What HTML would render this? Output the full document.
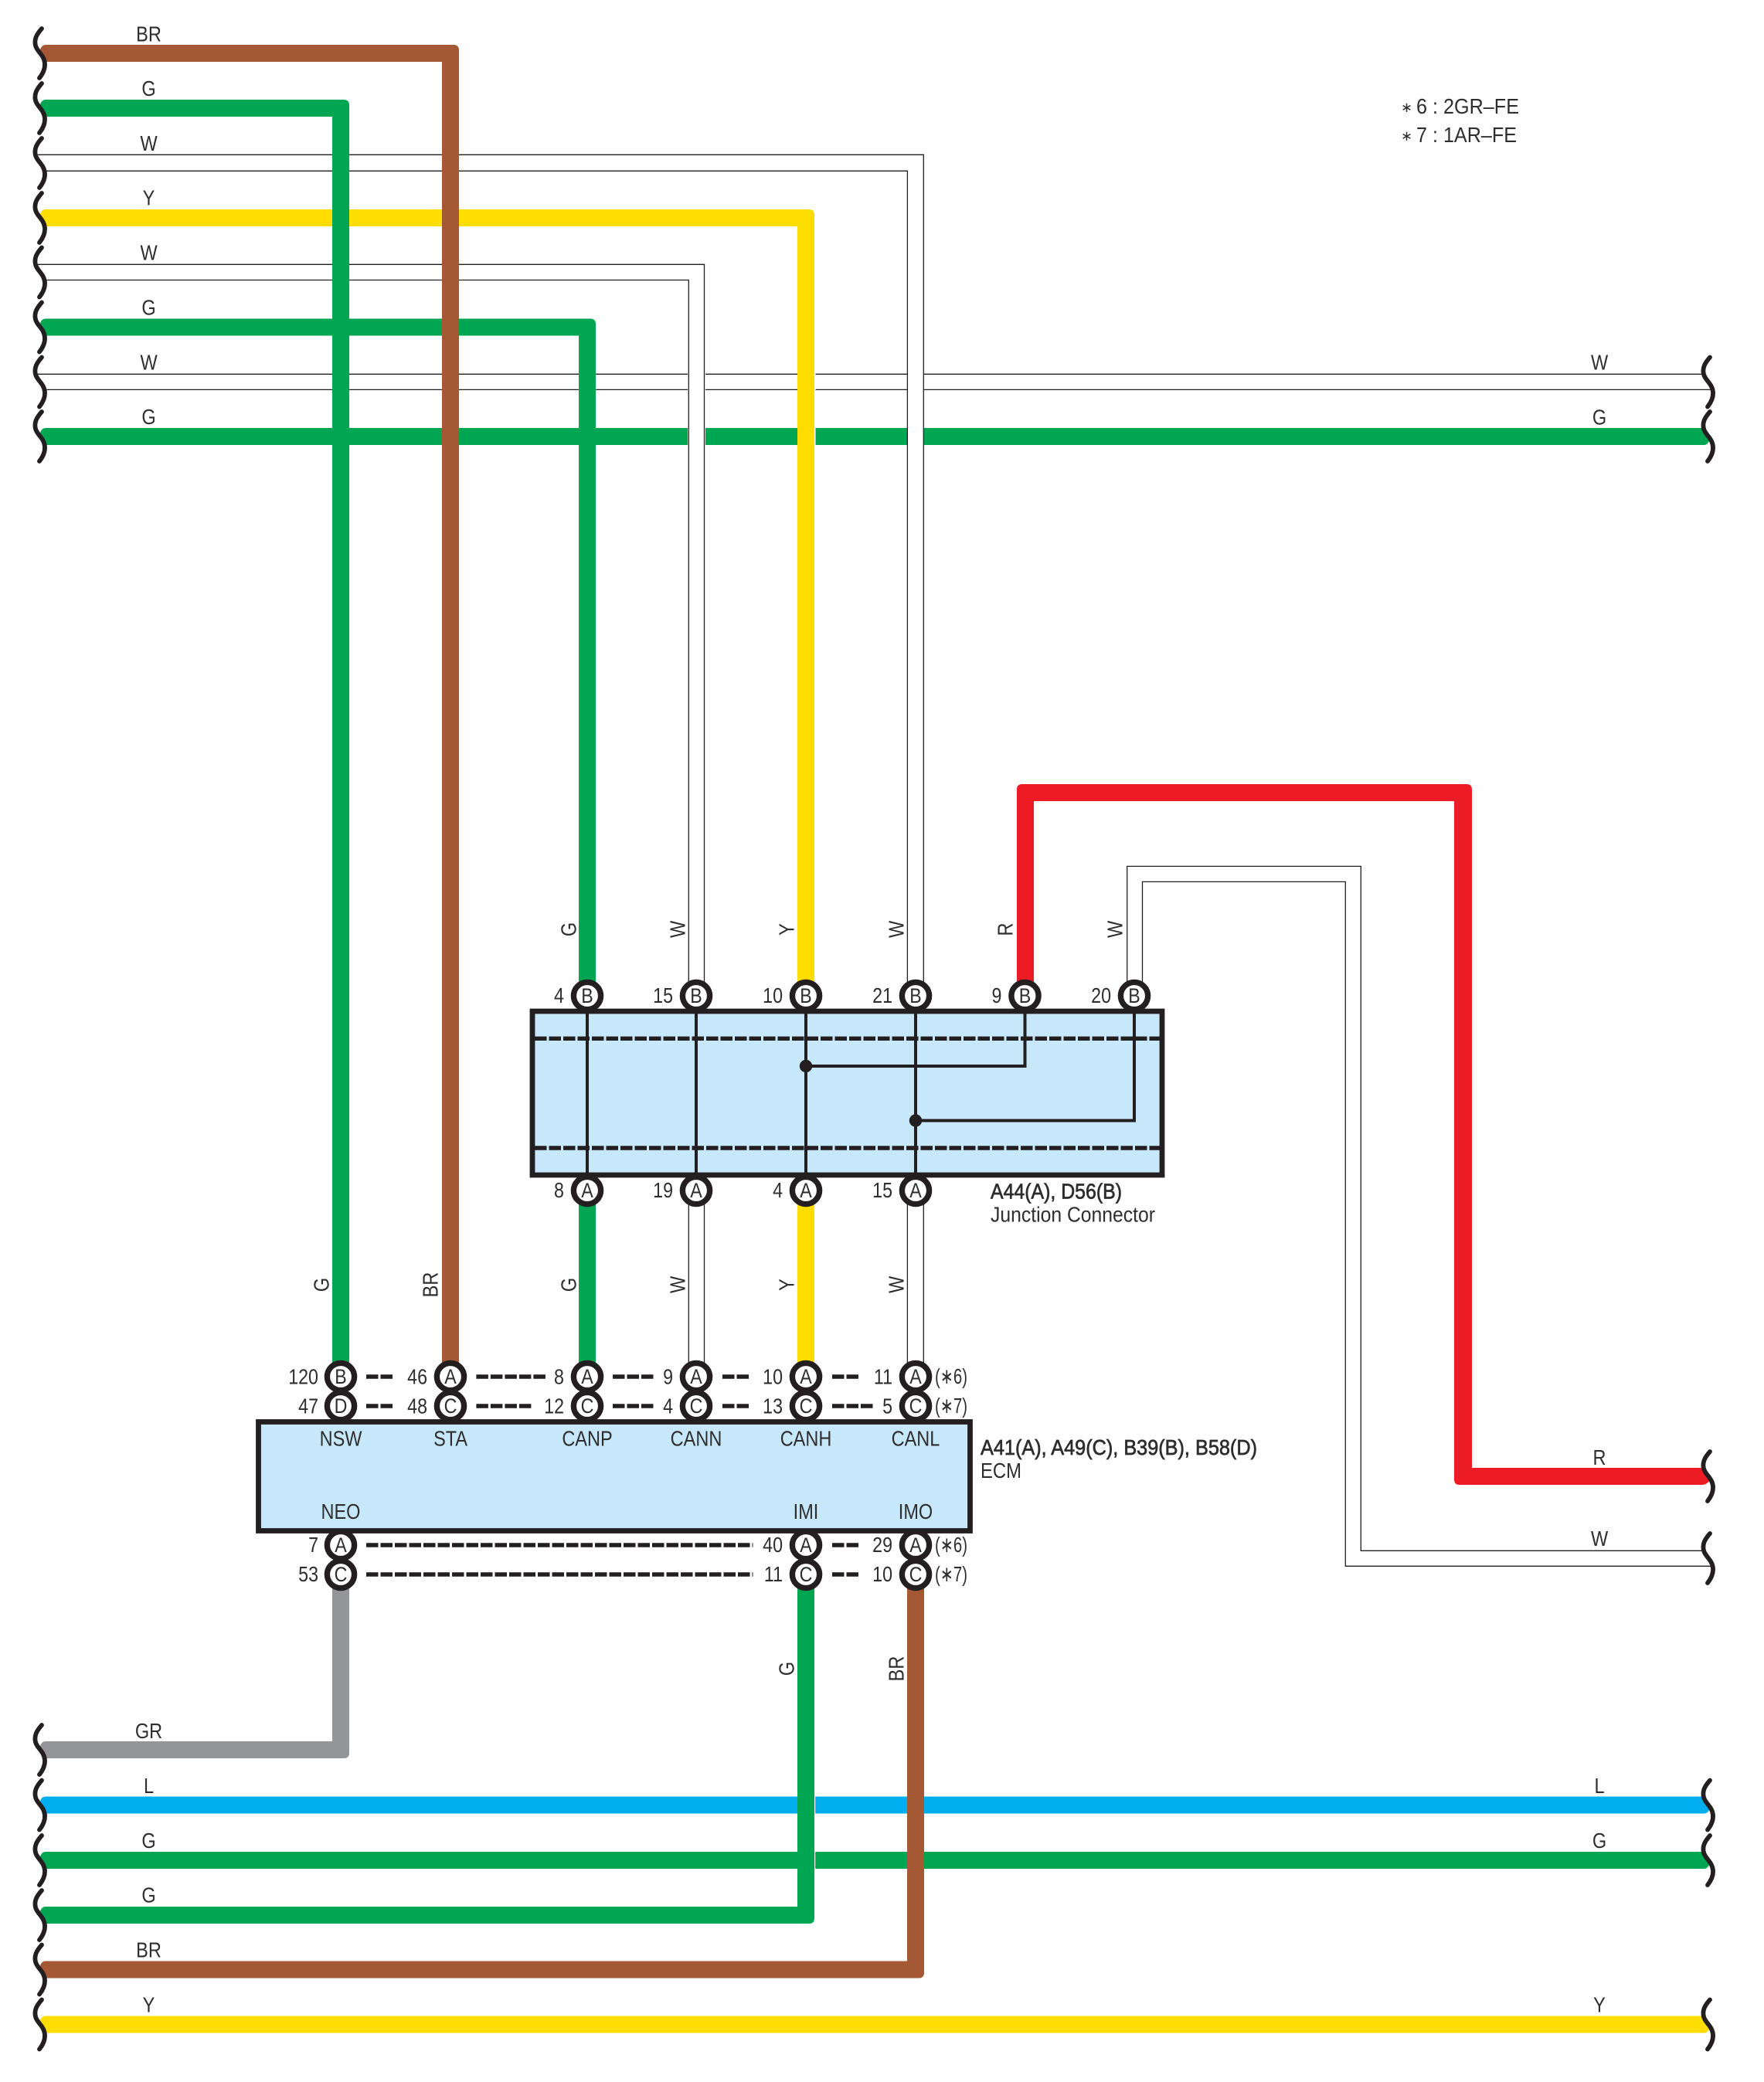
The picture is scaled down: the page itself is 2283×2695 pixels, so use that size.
<!DOCTYPE html>
<html lang="en"><head><meta charset="utf-8"><title>Wiring diagram</title>
<style>
html,body{margin:0;padding:0;background:#fff}
svg{display:block}
text{font-family:"Liberation Sans",sans-serif;font-size:28px;fill:#2e2e2e}
.m{text-anchor:middle;transform-box:fill-box;transform-origin:center;transform:scaleX(.84)}
.e{text-anchor:end;transform-box:fill-box;transform-origin:right center;transform:scaleX(.83)}
text.p{font-size:27px;transform:scaleX(.86)}
text.a{font-size:18px}
.w{fill:none;stroke:#231f20;stroke-width:1.3}
.c{fill:#fff;stroke:#231f20;stroke-width:7.4}
.d{stroke:#231f20;stroke-width:5.4;stroke-dasharray:15.5 3;fill:none}
.b{fill:#c7e7fa;stroke:#231f20;stroke-width:6.8}
.i{fill:none;stroke:#231f20;stroke-width:4}
.n{stroke:#2a2a2a;stroke-width:.7}
</style></head><body>
<svg xmlns="http://www.w3.org/2000/svg" width="2283" height="2695" viewBox="0 0 2283 2695">
<defs><path id="s" d="M54,-32C47,-24 44,-18 46,-10C48,-2 57,2 58,13C58.5,20 55,27 51,32" fill="none" stroke="#231f20" stroke-width="5.8" stroke-linecap="round"/></defs>
<rect width="2283" height="2695" fill="#fff"/>

<!-- white wire horizontals, row 3 -->
<path class="w" d="M49,484.3H2205M57,504.4H2218"/>
<path fill="#00a651" d="M59,554Q54,554 52,560L58,576H2206Q2210,576 2213,569L2205,554Z"/>
<!-- white wires over -->
<rect x="890" y="475" width="23" height="110" fill="#fff"/>
<rect x="1032" y="475" width="23.5" height="110" fill="#fff"/>
<rect x="1174" y="475" width="22" height="110" fill="#fff"/>
<path class="w" d="M49,200.3H1195.3V1272M58,221.3H1174.4V1272"/>
<path class="w" d="M49,342.3H911.5V1272M58,362.5H891.3V1272"/>
<!-- coloured elbows top -->
<path fill="#ffdd00" d="M59,271Q54,271 52,277L58,293H1032V1290H1054V278Q1054,271 1047,271Z"/>
<path fill="#00a651" d="M59,412.5Q54,412.5 52,418L58,434.5H749V1290H771V419.5Q771,412.5 764,412.5Z"/>
<path fill="#00a651" d="M59,129Q54,129 52,135L58,151H430V1782H452V136Q452,129 445,129Z"/>
<path fill="#a45834" d="M59,58Q54,58 52,64L58,80H572V1782H594V65Q594,58 587,58Z"/>
<!-- mid wires -->
<rect x="749" y="1541" width="22" height="241" fill="#00a651"/>
<rect x="1032" y="1541" width="22" height="241" fill="#ffdd00"/>
<path class="w" d="M891.3,1541V1782M911.5,1541V1782M1174.4,1541V1782M1195.3,1541V1782"/>
<!-- red and right white -->
<path fill="#ed1c24" d="M1316,1289V1022Q1316,1015 1323,1015H1898Q1905,1015 1905,1022V1900H2205L2213,1916Q2209,1922 2203,1922H1889Q1882,1922 1882,1915V1037H1338V1289Z"/>
<path class="w" d="M1458.7,1289V1121.4H1761.3V2007.3H2204M1478.5,1289V1141.4H1741.3V2027.3H2217"/>
<!-- bottom wires -->
<path fill="#00aeef" d="M59,2325.5Q54,2325.5 52,2331L58,2347.5H2206Q2210,2347.5 2213,2341L2205,2325.5Z"/>
<path fill="#00a651" d="M59,2397Q54,2397 52,2403L58,2419H2206Q2210,2419 2213,2412L2205,2397Z"/>
<path fill="#ffdd00" d="M59,2609.5Q54,2609.5 52,2615L58,2631.5H2206Q2210,2631.5 2213,2625L2205,2609.5Z"/>
<rect x="1054" y="2320" width="1.2" height="105" fill="#fff"/>
<path fill="#939598" d="M59,2254Q54,2254 52,2260L58,2276H445Q452,2276 452,2269V2038H430V2254Z"/>
<path fill="#00a651" d="M59,2468Q54,2468 52,2474L58,2490H1047Q1054,2490 1054,2483V2038H1032V2468Z"/>
<path fill="#a45834" d="M59,2538.5Q54,2538.5 52,2544L58,2560.5H1189Q1196,2560.5 1196,2553.5V2038H1174V2538.5Z"/>

<!-- squiggles left -->
<use href="#s" y="69"/><use href="#s" y="140"/><use href="#s" y="211"/><use href="#s" y="282"/><use href="#s" y="352.5"/><use href="#s" y="423.5"/><use href="#s" y="494.5"/><use href="#s" y="565"/>
<use href="#s" y="2265"/><use href="#s" y="2336.5"/><use href="#s" y="2408"/><use href="#s" y="2479"/><use href="#s" y="2549.5"/><use href="#s" y="2620.5"/>
<!-- squiggles right -->
<use href="#s" x="2159" y="494.5"/><use href="#s" x="2159" y="565"/><use href="#s" x="2159" y="1911"/><use href="#s" x="2159" y="2017"/><use href="#s" x="2159" y="2336.5"/><use href="#s" x="2159" y="2408"/><use href="#s" x="2159" y="2620.5"/>

<!-- circles -->
<g class="c"><circle cx="760" cy="1289" r="17.6"/><circle cx="901" cy="1289" r="17.6"/><circle cx="1043" cy="1289" r="17.6"/><circle cx="1185" cy="1289" r="17.6"/><circle cx="1326.5" cy="1289" r="17.6"/><circle cx="1468" cy="1289" r="17.6"/>
<circle cx="760" cy="1541" r="17.6"/><circle cx="901" cy="1541" r="17.6"/><circle cx="1043" cy="1541" r="17.6"/><circle cx="1185" cy="1541" r="17.6"/>
<circle cx="441" cy="1782" r="17.6"/><circle cx="583" cy="1782" r="17.6"/><circle cx="760" cy="1782" r="17.6"/><circle cx="901" cy="1782" r="17.6"/><circle cx="1043" cy="1782" r="17.6"/><circle cx="1185" cy="1782" r="17.6"/>
<circle cx="441" cy="1820" r="17.6"/><circle cx="583" cy="1820" r="17.6"/><circle cx="760" cy="1820" r="17.6"/><circle cx="901" cy="1820" r="17.6"/><circle cx="1043" cy="1820" r="17.6"/><circle cx="1185" cy="1820" r="17.6"/>
<circle cx="441" cy="2000" r="17.6"/><circle cx="1043" cy="2000" r="17.6"/><circle cx="1185" cy="2000" r="17.6"/>
<circle cx="441" cy="2038" r="17.6"/><circle cx="1043" cy="2038" r="17.6"/><circle cx="1185" cy="2038" r="17.6"/></g>

<!-- junction box -->
<rect class="b" x="689" y="1309" width="815" height="212"/>
<path class="d" d="M692,1344.3H1501M692,1486H1501"/>
<path class="i" d="M760,1309V1521M901,1309V1521M1043,1309V1521M1185,1309V1521M1326.5,1309V1380H1043M1468,1309V1450.5H1185"/>
<circle cx="1043" cy="1380" r="8.2" fill="#231f20"/><circle cx="1185" cy="1450.5" r="8.2" fill="#231f20"/>

<!-- ECM box -->
<rect class="b" x="334.5" y="1840.5" width="921" height="141"/>
<path class="d" d="M474,1782H510M616.4,1782H707M793,1782H847M935,1782H970M1077,1782H1112M474,1820H510M616.4,1820H689M793,1820H847M935,1820H970M1077,1820H1130M474,2000H974.5M1077,2000H1112M474,2038H974.5M1077,2038H1112"/>

<!-- pin letters -->
<text class="m p" x="760" y="1298">B</text><text class="m p" x="901" y="1298">B</text><text class="m p" x="1043" y="1298">B</text><text class="m p" x="1185" y="1298">B</text><text class="m p" x="1326.5" y="1298">B</text><text class="m p" x="1468" y="1298">B</text>
<text class="m p" x="760" y="1550">A</text><text class="m p" x="901" y="1550">A</text><text class="m p" x="1043" y="1550">A</text><text class="m p" x="1185" y="1550">A</text>
<text class="m p" x="441" y="1791">B</text><text class="m p" x="583" y="1791">A</text><text class="m p" x="760" y="1791">A</text><text class="m p" x="901" y="1791">A</text><text class="m p" x="1043" y="1791">A</text><text class="m p" x="1185" y="1791">A</text>
<text class="m p" x="441" y="1829">D</text><text class="m p" x="583" y="1829">C</text><text class="m p" x="760" y="1829">C</text><text class="m p" x="901" y="1829">C</text><text class="m p" x="1043" y="1829">C</text><text class="m p" x="1185" y="1829">C</text>
<text class="m p" x="441" y="2009">A</text><text class="m p" x="1043" y="2009">A</text><text class="m p" x="1185" y="2009">A</text>
<text class="m p" x="441" y="2047">C</text><text class="m p" x="1043" y="2047">C</text><text class="m p" x="1185" y="2047">C</text>

<!-- pin numbers -->
<text class="e" x="730" y="1298">4</text><text class="e" x="871" y="1298">15</text><text class="e" x="1013" y="1298">10</text><text class="e" x="1155" y="1298">21</text><text class="e" x="1296.5" y="1298">9</text><text class="e" x="1438" y="1298">20</text>
<text class="e" x="730" y="1550">8</text><text class="e" x="871" y="1550">19</text><text class="e" x="1013" y="1550">4</text><text class="e" x="1155" y="1550">15</text>
<text class="e" x="412" y="1791.5">120</text><text class="e" x="553" y="1791.5">46</text><text class="e" x="730" y="1791.5">8</text><text class="e" x="871" y="1791.5">9</text><text class="e" x="1013" y="1791.5">10</text><text class="e" x="1155" y="1791.5">11</text>
<text class="e" x="412" y="1829.5">47</text><text class="e" x="553" y="1829.5">48</text><text class="e" x="730" y="1829.5">12</text><text class="e" x="871" y="1829.5">4</text><text class="e" x="1013" y="1829.5">13</text><text class="e" x="1155" y="1829.5">5</text>
<text class="e" x="412" y="2009">7</text><text class="e" x="1013" y="2009">40</text><text class="e" x="1155" y="2009">29</text>
<text class="e" x="412" y="2047">53</text><text class="e" x="1013" y="2047">11</text><text class="e" x="1155" y="2047">10</text>
<text x="1210" y="1791" textLength="42" lengthAdjust="spacingAndGlyphs">(∗6)</text>
<text x="1210" y="1829" textLength="42" lengthAdjust="spacingAndGlyphs">(∗7)</text>
<text x="1210" y="2009" textLength="42" lengthAdjust="spacingAndGlyphs">(∗6)</text>
<text x="1210" y="2047" textLength="42" lengthAdjust="spacingAndGlyphs">(∗7)</text>

<!-- ECM pin names -->
<text class="m" x="441" y="1871.5">NSW</text><text class="m" x="583" y="1871.5">STA</text><text class="m" x="760" y="1871.5">CANP</text><text class="m" x="901" y="1871.5">CANN</text><text class="m" x="1043" y="1871.5">CANH</text><text class="m" x="1185" y="1871.5">CANL</text>
<text class="m" x="441" y="1966">NEO</text><text class="m" x="1043" y="1966">IMI</text><text class="m" x="1185" y="1966">IMO</text>

<!-- captions -->
<text class="n" x="1269" y="1883" textLength="358" lengthAdjust="spacingAndGlyphs">A41(A), A49(C), B39(B), B58(D)</text>
<text x="1269" y="1913" textLength="53" lengthAdjust="spacingAndGlyphs">ECM</text>
<text class="n" x="1282" y="1551.5" textLength="170" lengthAdjust="spacingAndGlyphs">A44(A), D56(B)</text>
<text x="1282" y="1581.5" textLength="213" lengthAdjust="spacingAndGlyphs">Junction Connector</text>
<text class="a" x="1813" y="145">∗</text><text x="1833" y="147" textLength="133" lengthAdjust="spacingAndGlyphs">6 : 2GR–FE</text>
<text class="a" x="1813" y="182">∗</text><text x="1833" y="184" textLength="130" lengthAdjust="spacingAndGlyphs">7 : 1AR–FE</text>

<!-- left wire labels -->
<text class="m" x="192.5" y="53.5">BR</text><text class="m" x="192.5" y="124">G</text><text class="m" x="192.5" y="195">W</text><text class="m" x="192.5" y="265.5">Y</text><text class="m" x="192.5" y="336.5">W</text><text class="m" x="192.5" y="407.5">G</text><text class="m" x="192.5" y="478.5">W</text><text class="m" x="192.5" y="549">G</text>
<text class="m" x="192.5" y="2250">GR</text><text class="m" x="192.5" y="2321">L</text><text class="m" x="192.5" y="2392">G</text><text class="m" x="192.5" y="2462.5">G</text><text class="m" x="192.5" y="2533.5">BR</text><text class="m" x="192.5" y="2604.5">Y</text>
<!-- right wire labels -->
<text class="m" x="2070" y="478.5">W</text><text class="m" x="2070" y="549.5">G</text><text class="m" x="2070" y="1896">R</text><text class="m" x="2070" y="2001">W</text><text class="m" x="2070" y="2321">L</text><text class="m" x="2070" y="2392">G</text><text class="m" x="2070" y="2604.5">Y</text>

<!-- rotated labels -->
<g transform="translate(745.5,1203) rotate(-90)"><text class="m">G</text></g>
<g transform="translate(886.5,1203) rotate(-90)"><text class="m">W</text></g>
<g transform="translate(1027.5,1203) rotate(-90)"><text class="m">Y</text></g>
<g transform="translate(1169.5,1203) rotate(-90)"><text class="m">W</text></g>
<g transform="translate(1310.5,1203) rotate(-90)"><text class="m">R</text></g>
<g transform="translate(1452.5,1203) rotate(-90)"><text class="m">W</text></g>
<g transform="translate(425.5,1663) rotate(-90)"><text class="m">G</text></g>
<g transform="translate(566.5,1663) rotate(-90)"><text class="m">BR</text></g>
<g transform="translate(745.5,1663) rotate(-90)"><text class="m">G</text></g>
<g transform="translate(886.5,1663) rotate(-90)"><text class="m">W</text></g>
<g transform="translate(1027.5,1663) rotate(-90)"><text class="m">Y</text></g>
<g transform="translate(1169.5,1663) rotate(-90)"><text class="m">W</text></g>
<g transform="translate(1027.5,2160) rotate(-90)"><text class="m">G</text></g>
<g transform="translate(1169.5,2160) rotate(-90)"><text class="m">BR</text></g>
</svg>
</body></html>
